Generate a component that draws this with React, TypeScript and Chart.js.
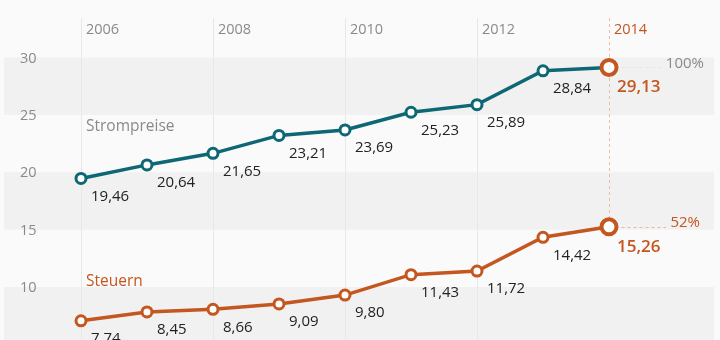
import React, { useEffect, useRef } from "react";
import { Chart, registerables } from "chart.js";
Chart.register(...registerables);

const years = [2006, 2007, 2008, 2009, 2010, 2011, 2012, 2013, 2014];
const strompreise = [19.46, 20.64, 21.65, 23.21, 23.69, 25.23, 25.89, 28.84, 29.13];
const steuern = [7.74, 8.45, 8.66, 9.09, 9.8, 11.43, 11.72, 14.42, 15.26];
const yTicks = [30, 25, 20, 15, 10, 5];
const yearLabels = [2006, 2008, 2010, 2012, 2014];
const seriesNames = ["Strompreise", "Steuern"];
const shareLabels = ["100%", "52%"];

const TEAL = "#0d6775";
const ORANGE = "#c4561f";
const FONT = "'Open Sans', 'Noto Sans', sans-serif";

// target geometry (as in the reference graphic)
const Y_REF_VAL = 30;
const Y_REF_PX = 57.5;
const Y_PX_PER_UNIT = 11.475;
// the tax series is drawn on its own (hidden) scale in the reference
const Y2_REF_VAL = 15.26;
const Y2_REF_PX = 226.8;
const Y2_PX_PER_UNIT = 12.5;
const X0_PX = 81;
const X1_PX = 609;

const fmt = (v: number) => v.toFixed(2).replace(".", ",");

export default function App() {
  const ref = useRef<HTMLCanvasElement | null>(null);
  useEffect(() => {
    document.body.style.margin = "0";
    const canvas = ref.current!;
    const decor = {
      id: "decor",
      beforeDraw(chart: any) {
        const ctx = chart.ctx;
        const x = chart.scales.x;
        const y = chart.scales.y;
        const y2 = chart.scales.y2;
        ctx.save();
        ctx.fillStyle = "#fafafa";
        ctx.fillRect(0, 0, chart.width, chart.height);
        ctx.fillStyle = "#f1f1f1";
        for (let v = 30; v > 0; v -= 10) {
          const t = y.getPixelForValue(v);
          const b = y.getPixelForValue(v - 5);
          ctx.fillRect(4, t, 710, b - t);
        }
        ctx.strokeStyle = "#e8e8e8";
        ctx.lineWidth = 1;
        for (const yr of yearLabels) {
          if (yr === 2014) continue;
          const px = Math.round(x.getPixelForValue(yr)) + 0.5;
          ctx.beginPath();
          ctx.moveTo(px, 18);
          ctx.lineTo(px, chart.height);
          ctx.stroke();
        }
        const px14 = Math.round(x.getPixelForValue(2014)) + 0.5;
        const pyS = y2.getPixelForValue(steuern[8]);
        const pyP = y.getPixelForValue(strompreise[8]);
        ctx.strokeStyle = "#f0b8a8";
        ctx.setLineDash([3, 3]);
        ctx.beginPath();
        ctx.moveTo(px14, 18);
        ctx.lineTo(px14, pyS);
        ctx.stroke();
        ctx.beginPath();
        ctx.moveTo(px14, Math.round(pyS) + 0.5);
        ctx.lineTo(666, Math.round(pyS) + 0.5);
        ctx.stroke();
        ctx.strokeStyle = "#e6e6e6";
        ctx.beginPath();
        ctx.moveTo(px14, Math.round(pyP) + 0.5);
        ctx.lineTo(662, Math.round(pyP) + 0.5);
        ctx.stroke();
        ctx.setLineDash([]);
        ctx.font = `14.5px ${FONT}`;
        ctx.textBaseline = "middle";
        ctx.textAlign = "left";
        for (const yr of yearLabels) {
          ctx.fillStyle = yr === 2014 ? ORANGE : "#8a8a8a";
          ctx.fillText(String(yr), x.getPixelForValue(yr) + 5, 30);
        }
        ctx.fillStyle = "#8a8a8a";
        for (const t of yTicks) {
          ctx.fillText(String(t), 20, y.getPixelForValue(t) + 1);
        }
        ctx.font = `15.5px ${FONT}`;
        ctx.fillStyle = "#8a8a8a";
        ctx.fillText(seriesNames[0], 86, 127);
        ctx.fillStyle = ORANGE;
        ctx.fillText(seriesNames[1], 86, 282);
        ctx.font = `15px ${FONT}`;
        ctx.textAlign = "right";
        ctx.fillStyle = "#8a8a8a";
        ctx.fillText(shareLabels[0], 704, pyP - 4);
        ctx.fillStyle = ORANGE;
        ctx.fillText(shareLabels[1], 700, pyS - 4);
        ctx.restore();
      },
      afterDraw(chart: any) {
        const ctx = chart.ctx;
        const x = chart.scales.x;
        ctx.save();
        ctx.textBaseline = "middle";
        ctx.textAlign = "left";
        const drawSeries = (arr: number[], scale: any) => {
          arr.forEach((v, i) => {
            const px = x.getPixelForValue(years[i]);
            const py = scale.getPixelForValue(v);
            if (i === arr.length - 1) {
              ctx.font = `600 17px ${FONT}`;
              ctx.fillStyle = ORANGE;
              ctx.fillText(fmt(v), px + 8, py + 20);
            } else {
              ctx.font = `15px ${FONT}`;
              ctx.fillStyle = "#222";
              ctx.fillText(fmt(v), px + 10, py + 18);
            }
          });
        };
        drawSeries(strompreise, chart.scales.y);
        drawSeries(steuern, chart.scales.y2);
        ctx.restore();
      },
    };
    const mk = (data: number[], color: string, axis: string) => ({
      data: data.map((v, i) => ({ x: years[i], y: v })),
      yAxisID: axis,
      borderColor: color,
      borderWidth: 3.5,
      pointBackgroundColor: "#fff",
      pointBorderColor: data.map((_, i) => (i === data.length - 1 ? ORANGE : color)),
      pointBorderWidth: data.map((_, i) => (i === data.length - 1 ? 4 : 3)),
      pointRadius: data.map((_, i) => (i === data.length - 1 ? 7.5 : 5)),
      tension: 0,
      clip: false as any,
    });
    const chart: any = new Chart(canvas, {
      type: "line",
      data: {
        datasets: [mk(strompreise, TEAL, "y"), mk(steuern, ORANGE, "y2")],
      },
      options: {
        animation: false,
        responsive: false,
        events: [],
        layout: { padding: { left: 20, right: 20, top: 20, bottom: 0 } },
        plugins: { legend: { display: false }, tooltip: { enabled: false } },
        scales: {
          x: { type: "linear", min: 2006, max: 2014, display: false },
          y: { type: "linear", min: 5, max: 30, display: false },
          y2: { type: "linear", min: 5, max: 30, display: false },
        },
      },
      plugins: [decor],
    });
    const ca = chart.chartArea;
    chart.options.scales.y.max = Y_REF_VAL + (Y_REF_PX - ca.top) / Y_PX_PER_UNIT;
    chart.options.scales.y.min = Y_REF_VAL - (ca.bottom - Y_REF_PX) / Y_PX_PER_UNIT;
    chart.options.scales.y2.max = Y2_REF_VAL + (Y2_REF_PX - ca.top) / Y2_PX_PER_UNIT;
    chart.options.scales.y2.min = Y2_REF_VAL - (ca.bottom - Y2_REF_PX) / Y2_PX_PER_UNIT;
    const xPerPx = (2014 - 2006) / (X1_PX - X0_PX);
    chart.options.scales.x.min = 2006 - (X0_PX - ca.left) * xPerPx;
    chart.options.scales.x.max = 2014 + (ca.right - X1_PX) * xPerPx;
    chart.update();
    return () => chart.destroy();
  }, []);
  return (
    <div style={{ width: 720, height: 340, overflow: "hidden" }}>
      <canvas ref={ref} width={720} height={340} style={{ display: "block" }} />
    </div>
  );
}
